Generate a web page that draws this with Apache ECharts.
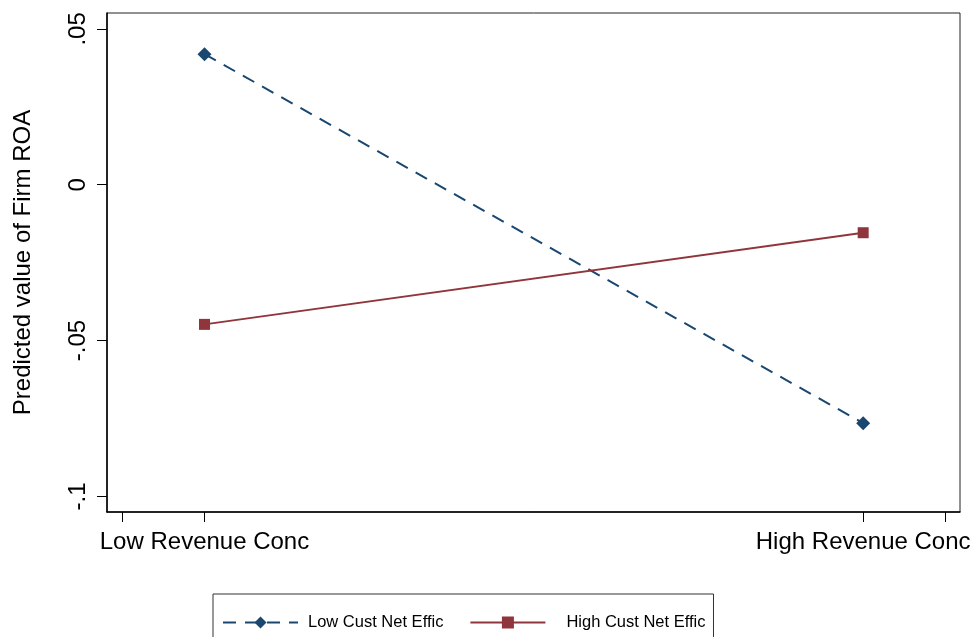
<!DOCTYPE html>
<html>
<head>
<meta charset="utf-8">
<title>Predicted value of Firm ROA</title>
<script src="https://cdn.jsdelivr.net/npm/echarts@6/dist/echarts.min.js"></script>
<style>
  html, body { margin: 0; padding: 0; background: #fff; }
  #chart { width: 976px; height: 637px; }
</style>
</head>
<body>
<div id="chart"></div>
<script>
// Revenue concentration groups on the x axis (placed at 1 and 2)
const categories = ['Low Revenue Conc', 'High Revenue Conc'];
// Predicted firm ROA for each customer-network-efficiency group
const lowCustNetEffic = [0.0419, -0.0765];
const highCustNetEffic = [-0.0448, -0.0154];
// Y axis tick positions and their printed labels
const yTickValues = [-0.1, -0.05, 0, 0.05];
const yTickLabels = ['-.1', '-.05', '0', '.05'];
// Extra unlabeled x ticks at the ends of the axis
const xTickValues = [0.875, 1, 2, 2.125];

const FONT = 'Liberation Sans, Arial, sans-serif';
const xPos = categories.map((c, i) => i + 1);
const toPoints = vals => vals.map((v, i) => [xPos[i], v]);

const chart = echarts.init(document.getElementById('chart'), null, { renderer: 'canvas' });
chart.setOption({
  backgroundColor: '#fff',
  animation: false,
  grid: {
    left: 107, right: 16, top: 13, bottom: 125,
    show: true, borderColor: '#222', borderWidth: 1
  },
  xAxis: {
    type: 'value',
    min: 0.852, max: 2.147,
    axisLine: { show: true, onZero: false, lineStyle: { color: '#000', width: 1.5 } },
    axisTick: { show: true, length: 10, customValues: xTickValues, lineStyle: { color: '#000', width: 1 } },
    axisLabel: {
      customValues: xPos,
      formatter: v => categories[Math.round(v) - 1] || '',
      color: '#000', fontFamily: FONT, fontSize: 24, margin: 18
    },
    splitLine: { show: false }
  },
  yAxis: {
    type: 'value',
    min: -0.105, max: 0.0551,
    name: 'Predicted value of Firm ROA',
    nameLocation: 'middle',
    nameGap: 72,
    nameTextStyle: { color: '#000', fontFamily: FONT, fontSize: 24 },
    axisLine: { show: true, onZero: false, lineStyle: { color: '#000', width: 1.5 } },
    axisTick: { show: true, length: 10, customValues: yTickValues, lineStyle: { color: '#000', width: 1 } },
    axisLabel: {
      customValues: yTickValues,
      rotate: 90,
      formatter: v => {
        const i = yTickValues.findIndex(t => Math.abs(t - v) < 1e-9);
        return i >= 0 ? yTickLabels[i] : '';
      },
      color: '#000', fontFamily: FONT, fontSize: 24, margin: 17
    },
    splitLine: { show: false }
  },
  legend: {
    left: 213, top: 594,
    orient: 'horizontal',
    padding: [20, 8, 18, 9],
    borderColor: '#333', borderWidth: 1,
    itemWidth: 75, itemHeight: 15, itemGap: 26,
    textStyle: { color: '#000', fontFamily: FONT, fontSize: 16.5 },
    data: [
      { name: 'Low Cust Net Effic', textStyle: { padding: [0, 0, 0, 5] } },
      { name: 'High Cust Net Effic', textStyle: { padding: [0, 0, 0, 16] } }
    ]
  },
  series: [
    {
      name: 'Low Cust Net Effic',
      type: 'line',
      data: toPoints(lowCustNetEffic),
      symbol: 'diamond', symbolSize: 14,
      lineStyle: { color: '#1a476f', width: 2, type: [13, 9] },
      itemStyle: { color: '#1a476f' }
    },
    {
      name: 'High Cust Net Effic',
      type: 'line',
      data: toPoints(highCustNetEffic),
      symbol: 'rect', symbolSize: 11,
      lineStyle: { color: '#90353b', width: 2 },
      itemStyle: { color: '#90353b' }
    }
  ]
});
</script>
</body>
</html>
